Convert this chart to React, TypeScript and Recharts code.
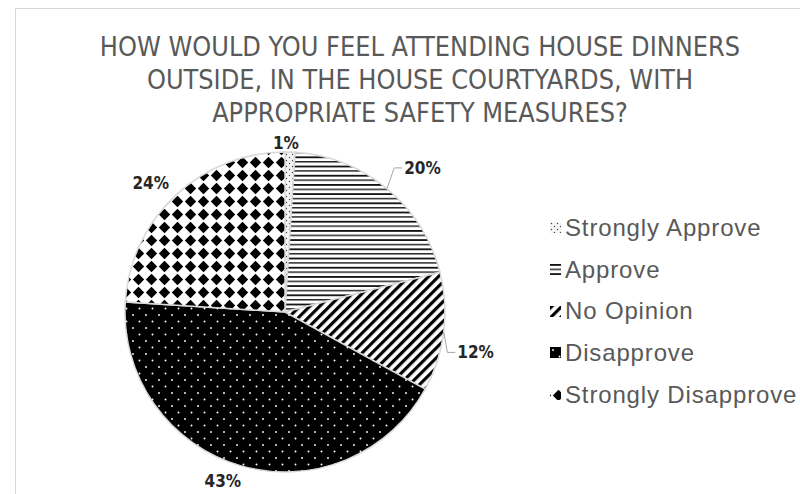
import React from 'react';
import { PieChart, Pie, Cell, Legend } from 'recharts';

const categories = ['Strongly Approve', 'Approve', 'No Opinion', 'Disapprove', 'Strongly Disapprove'];
const shares = [1, 20, 12, 43, 24];
const titleLines = [
  'HOW WOULD YOU FEEL ATTENDING HOUSE DINNERS',
  'OUTSIDE, IN THE HOUSE COURTYARDS, WITH',
  'APPROPRIATE SAFETY MEASURES?',
];

const data = categories.map((name, i) => ({ name, value: shares[i] }));

const patternIds = ['pStrongApprove', 'pApprove', 'pNoOpinion', 'pDisapprove', 'pStrongDisapprove'];

// where each slice label sits (Excel moved two of them out with leader lines)
const labelPlacement: Record<string, { gap: number; turn: number; leader: boolean }> = {
  'Strongly Approve': { gap: 9, turn: 1.5, leader: false },
  Approve: { gap: 27, turn: 0, leader: true },
  'No Opinion': { gap: 17, turn: -6, leader: true },
  Disapprove: { gap: 20, turn: -4, leader: false },
  'Strongly Disapprove': { gap: 26, turn: 3, leader: false },
};

const RAD = Math.PI / 180;
const labelFont = '"DejaVu Sans Condensed", "Liberation Sans", sans-serif';

const Patterns = () => (
  <defs>
    <pattern id="pStrongApprove" patternUnits="userSpaceOnUse" width={6} height={6}>
      <rect width={6} height={6} fill="#f4f4f4" />
      <circle cx={1.5} cy={1.5} r={0.7} fill="#444" />
      <circle cx={4.5} cy={4.5} r={0.7} fill="#444" />
    </pattern>
    <pattern id="pApprove" patternUnits="userSpaceOnUse" width={10} height={9.2}>
      <rect width={10} height={9.2} fill="#fff" />
      <rect y={0} width={10} height={1.8} fill="#111" />
      <rect y={4.6} width={10} height={1.5} fill="#2a2a2a" />
    </pattern>
    <pattern id="pNoOpinion" patternUnits="userSpaceOnUse" width={7} height={7} patternTransform="rotate(45)">
      <rect width={7} height={7} fill="#fff" />
      <rect x={0} width={3.2} height={7} fill="#000" />
    </pattern>
    <pattern id="pDisapprove" patternUnits="userSpaceOnUse" width={13} height={13}>
      <rect width={13} height={13} fill="#000" />
      <circle cx={3} cy={3} r={0.95} fill="#fff" />
      <circle cx={9.5} cy={9.5} r={0.95} fill="#fff" />
    </pattern>
    <pattern id="pStrongDisapprove" patternUnits="userSpaceOnUse" width={13} height={13} x={2}>
      <rect width={13} height={13} fill="#fff" />
      <polygon points="6.5,0.8 12.2,6.5 6.5,12.2 0.8,6.5" fill="#000" />
    </pattern>
  </defs>
);

const renderLabel = (props: any) => {
  const { cx, cy, midAngle, outerRadius, percent, name } = props;
  const place = labelPlacement[name];
  const angle = midAngle + place.turn;
  const r = outerRadius + place.gap;
  const x = cx + r * Math.cos(-angle * RAD);
  const y = cy + r * Math.sin(-angle * RAD);
  const text = `${Math.round(percent * 100)}%`;
  if (!place.leader) {
    return (
      <text x={x} y={y} textAnchor="middle" dominantBaseline="central" fill="#262626"
        fontFamily={labelFont} fontWeight="bold" fontSize={17}>
        {text}
      </text>
    );
  }
  const ex = cx + outerRadius * Math.cos(-midAngle * RAD);
  const ey = cy + outerRadius * Math.sin(-midAngle * RAD);
  return (
    <g>
      <polyline points={`${ex},${ey} ${x - 10},${y} ${x - 2},${y}`} fill="none" stroke="#a6a6a6" strokeWidth={1} />
      <text x={x} y={y} textAnchor="start" dominantBaseline="central" fill="#262626"
        fontFamily={labelFont} fontWeight="bold" fontSize={17}>
        {text}
      </text>
    </g>
  );
};

const LegendBox = () => (
  <div style={{ fontFamily: '"Liberation Sans", Arial, sans-serif', fontSize: 24, letterSpacing: 0.85, color: '#595959' }}>
    {categories.map((name, i) => (
      <div key={name} style={{ display: 'flex', alignItems: 'center', height: 41.7, whiteSpace: 'nowrap' }}>
        <svg width={11} height={11} style={{ marginRight: 4 }}>
          <rect width={11} height={11} fill={`url(#${patternIds[i]})`} />
        </svg>
        <span>{name}</span>
      </div>
    ))}
  </div>
);

const App: React.FC = () => {
  return (
    <div style={{ position: 'absolute', left: 0, top: 0, width: 800, height: 494, overflow: 'hidden', background: '#fff' }}>
      <div style={{ position: 'absolute', left: 15, top: 8, width: 830, height: 520, border: '1.5px solid #d9d9d9' }} />
      <div style={{ position: 'absolute', left: 16, top: 30, width: 808, textAlign: 'center', color: '#595959',
        fontFamily: labelFont, fontSize: 26.8, lineHeight: '33px' }}>
        {titleLines.map((line) => (
          <div key={line}>{line}</div>
        ))}
      </div>
      <div style={{ position: 'absolute', left: 0, top: 0 }}>
        <PieChart width={800} height={494} margin={{ top: 0, right: 0, bottom: 0, left: 0 }}>
          <Patterns />
          <Pie
            data={data}
            dataKey="value"
            nameKey="name"
            cx={285}
            cy={312}
            outerRadius={160}
            startAngle={90}
            endAngle={-270}
            stroke="#d9d9d9"
            strokeWidth={1.5}
            label={renderLabel}
            labelLine={false}
            isAnimationActive={false}
          >
            {data.map((d, i) => (
              <Cell key={d.name} fill={`url(#${patternIds[i]})`} />
            ))}
          </Pie>
          <Legend
            layout="vertical"
            content={() => <LegendBox />}
            wrapperStyle={{ position: 'absolute', left: 550, top: 207, width: 280 }}
          />
        </PieChart>
      </div>
    </div>
  );
};

export default App;
